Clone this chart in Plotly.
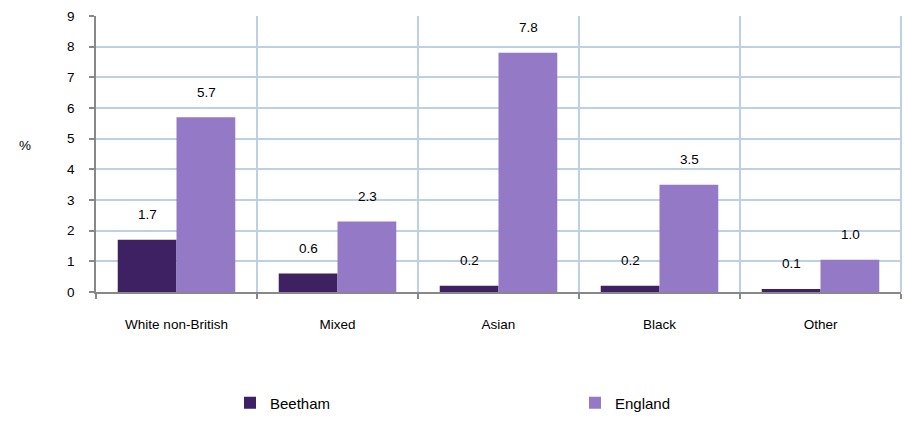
import plotly.graph_objects as go

categories = ["White non-British", "Mixed", "Asian", "Black", "Other"]
beetham = [1.7, 0.6, 0.2, 0.2, 0.1]
england = [5.7, 2.3, 7.8, 3.5, 1.05]
beetham_labels = ["1.7", "0.6", "0.2", "0.2", "0.1"]
england_labels = ["5.7", "2.3", "7.8", "3.5", "1.0"]

C_B = "#3D2163"
C_E = "#9479C6"
GRID = "#BDD0E8"
FONT = "Liberation Sans, Arial, sans-serif"

L, R, T, B = 96, 3, 16, 132
PW, PH = 904 - L - R, 424 - T - B

xs = list(range(len(categories)))

fig = go.Figure()
fig.add_trace(go.Bar(name="Beetham", x=xs, y=beetham, marker=dict(color=C_B, line=dict(width=0)), legend="legend"))
fig.add_trace(go.Bar(name="England", x=xs, y=england, marker=dict(color=C_E, line=dict(width=0)), legend="legend2"))

annotations = []
for i in xs:
    for vals, labs, shift in ((beetham, beetham_labels, -29.5), (england, england_labels, 29.5)):
        annotations.append(dict(x=i, y=vals[i], xref="x", yref="y", text=labs[i], showarrow=False,
                                xshift=shift, yshift=25, yanchor="middle",
                                font=dict(size=13.5, color="#000", family=FONT)))
annotations.append(dict(x=(25 - L) / PW, y=(292 - 145) / PH, xref="paper", yref="paper", text="%",
                        showarrow=False, xanchor="center", yanchor="middle",
                        font=dict(size=13.5, color="#000", family=FONT)))

leg_common = dict(orientation="h", xanchor="left", yanchor="middle", y=(292 - 403) / PH,
                  font=dict(size=15, family=FONT), itemwidth=30, bgcolor="rgba(0,0,0,0)")

fig.update_layout(
    width=904, height=424,
    margin=dict(l=L, r=R, t=T, b=B, autoexpand=False),
    plot_bgcolor="white", paper_bgcolor="white",
    barmode="group", bargap=0.27, bargroupgap=0,
    font=dict(family=FONT, size=13.5, color="#000"),
    annotations=annotations,
    legend=dict(x=(230 - L) / PW, **leg_common),
    legend2=dict(x=(575 - L) / PW, **leg_common),
    showlegend=True,
    shapes=[dict(type="line", xref="x domain", yref="y domain", x0=1, x1=1, y0=0, y1=1,
                 line=dict(color=GRID, width=2), layer="below")],
)
fig.update_xaxes(
    range=[-0.5, 4.5], tickvals=xs, ticktext=categories, ticks="", showgrid=False,
    showline=True, linecolor="#888", linewidth=1.5, zeroline=False, automargin=False,
    ticklabelstandoff=19, tickfont=dict(size=13.5, family=FONT),
    minor=dict(tickvals=[-0.5, 0.5, 1.5, 2.5, 3.5, 4.5], showgrid=True, gridcolor=GRID, gridwidth=2,
               ticks="outside", ticklen=5, tickcolor="#888", tickwidth=1.5),
)
fig.update_yaxes(
    range=[0, 9], dtick=1, showgrid=True, gridcolor=GRID, gridwidth=2,
    showline=True, linecolor="#888", linewidth=1.5, zeroline=False, automargin=False,
    ticks="outside", ticklen=5, tickcolor="#888", tickwidth=1.5,
    ticklabelstandoff=12, tickfont=dict(size=13.5, family=FONT),
)

fig.write_html("out.html", config={"displayModeBar": False},
               post_script="document.body.style.margin='0';document.body.style.overflow='hidden';")
